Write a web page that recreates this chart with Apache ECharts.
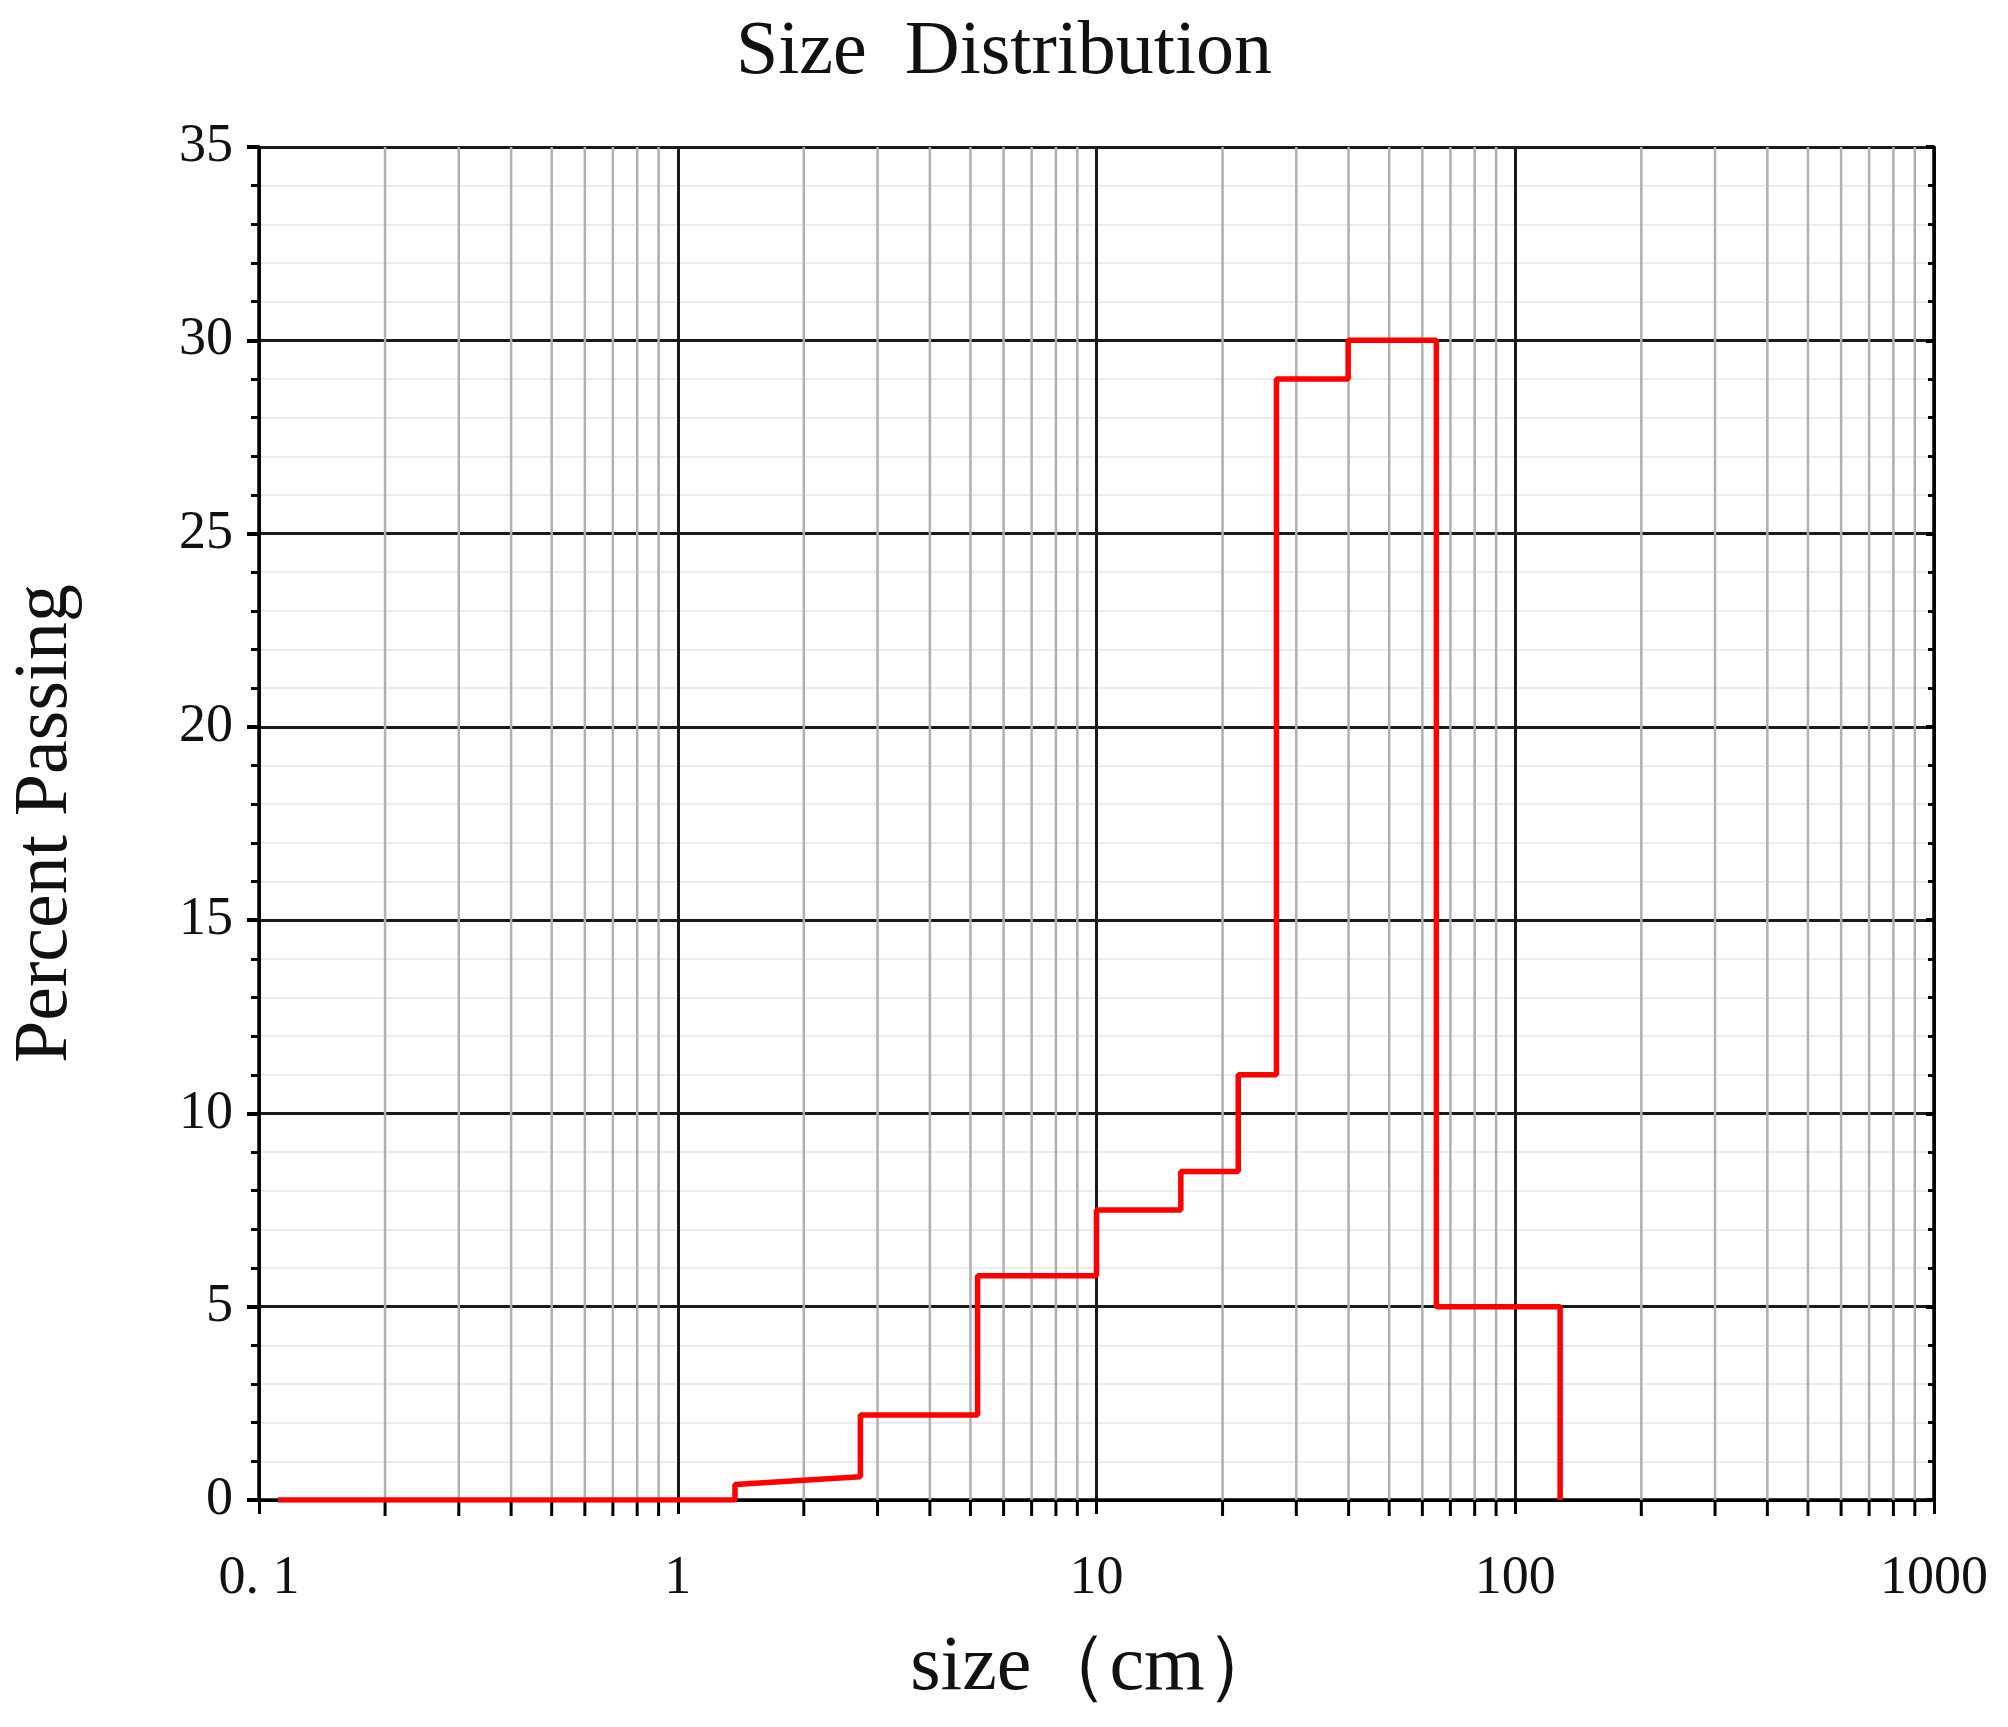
<!DOCTYPE html>
<html><head><meta charset="utf-8">
<script src="https://cdn.jsdelivr.net/npm/echarts@6/dist/echarts.min.js"></script>
<style>html,body{margin:0;padding:0;background:#fff}#c{width:2008px;height:1727px}</style>
</head><body><div id="c"></div>
<script>
// step outline vertices of the size distribution (size in cm, percent)
const sizes    = [0.111, 1.37, 1.37, 2.73, 2.73, 5.2, 5.2, 10, 10, 15.9, 15.9, 21.8, 21.8, 26.9, 26.9, 39.9, 39.9, 64.8, 64.8, 128, 128];
const percents = [0,     0,    0.4,  0.6,  2.2,  2.2, 5.8, 5.8, 7.5, 7.5, 8.5,  8.5,  11,   11,   29,   29,   30,   30,   5,    5,   0];
const decades = [0.1, 1, 10, 100, 1000];
const minorMultipliers = [2,3,4,5,6,7,8,9];
const xTickLabels = {0.1:'0. 1', 1:'1', 10:'10', 100:'100', 1000:'1000'};

const minorX = [];
decades.slice(0,-1).forEach(d => minorMultipliers.forEach(m => minorX.push(+(d*m).toPrecision(3))));

const FONT = '"Liberation Serif","DejaVu Serif",serif';
const chart = echarts.init(document.getElementById('c'));
chart.setOption({
  animation:false,
  title:{text:'Size  Distribution',left:'center',top:10,textStyle:{fontFamily:FONT,fontSize:76,fontWeight:'normal',color:'#111'}},
  grid:{left:256,right:74,top:147,bottom:227},
  xAxis:{type:'log',logBase:10,min:0.1,max:1000,interval:1,
    name:'size\uFF08cm\uFF09',nameLocation:'middle',nameGap:130,
    nameTextStyle:{fontFamily:FONT,fontSize:78,color:'#111'},
    axisLine:{lineStyle:{color:'#000',width:3.5}},
    axisTick:{show:true,length:14,lineStyle:{color:'#000',width:3}},
    axisLabel:{fontFamily:FONT,fontSize:54,color:'#111',margin:52,formatter:v=>xTickLabels[v]!==undefined?xTickLabels[v]:String(v)},
    splitLine:{show:true,lineStyle:{color:'#1a1a1a',width:3}}},
  yAxis:[{type:'value',min:0,max:35,interval:5,
    name:'Percent Passing',nameLocation:'middle',nameGap:175,
    nameTextStyle:{fontFamily:FONT,fontSize:76,color:'#111'},
    axisLine:{show:true,lineStyle:{color:'#000',width:3.5}},
    axisTick:{show:true,inside:false,length:12,lineStyle:{color:'#000',width:4}},
    minorTick:{show:true,splitNumber:5,length:8,lineStyle:{color:'#000',width:3}},
    minorSplitLine:{show:true,lineStyle:{color:'#ececec',width:2}},
    axisLabel:{fontFamily:FONT,fontSize:54,color:'#111',margin:26},
    splitLine:{show:true,lineStyle:{color:'#1a1a1a',width:3}}},
   {type:'value',min:0,max:35,interval:5,position:'right',
    axisLine:{show:true,lineStyle:{color:'#000',width:3.5}},
    axisTick:{show:true,inside:true,length:8,lineStyle:{color:'#000',width:4}},
    minorTick:{show:true,splitNumber:5,length:6,lineStyle:{color:'#000',width:3}},
    axisLabel:{show:false},splitLine:{show:false}}],
  series:[
    {type:'custom',clip:false,silent:true,z:1,data:minorX.map(v=>[v]),
     encode:{x:0},
     renderItem:(params,api)=>{
       const x = api.coord([api.value(0),0])[0];
       const top = api.coord([api.value(0),35])[1];
       const bot = api.coord([api.value(0),0])[1];
       return {type:'group',children:[
         {type:'line',shape:{x1:x,y1:top,x2:x,y2:bot},style:{stroke:'#b0b0b0',lineWidth:2.5}},
         {type:'line',shape:{x1:x,y1:bot,x2:x,y2:bot+16},style:{stroke:'#000',lineWidth:3}}
       ]};
     }},
    {type:'line',data:sizes.map((s,i)=>[s,percents[i]]),showSymbol:false,z:5,
     lineStyle:{color:'#ff0000',width:5.5},itemStyle:{color:'#ff0000'}}
  ]
});
</script></body></html>
